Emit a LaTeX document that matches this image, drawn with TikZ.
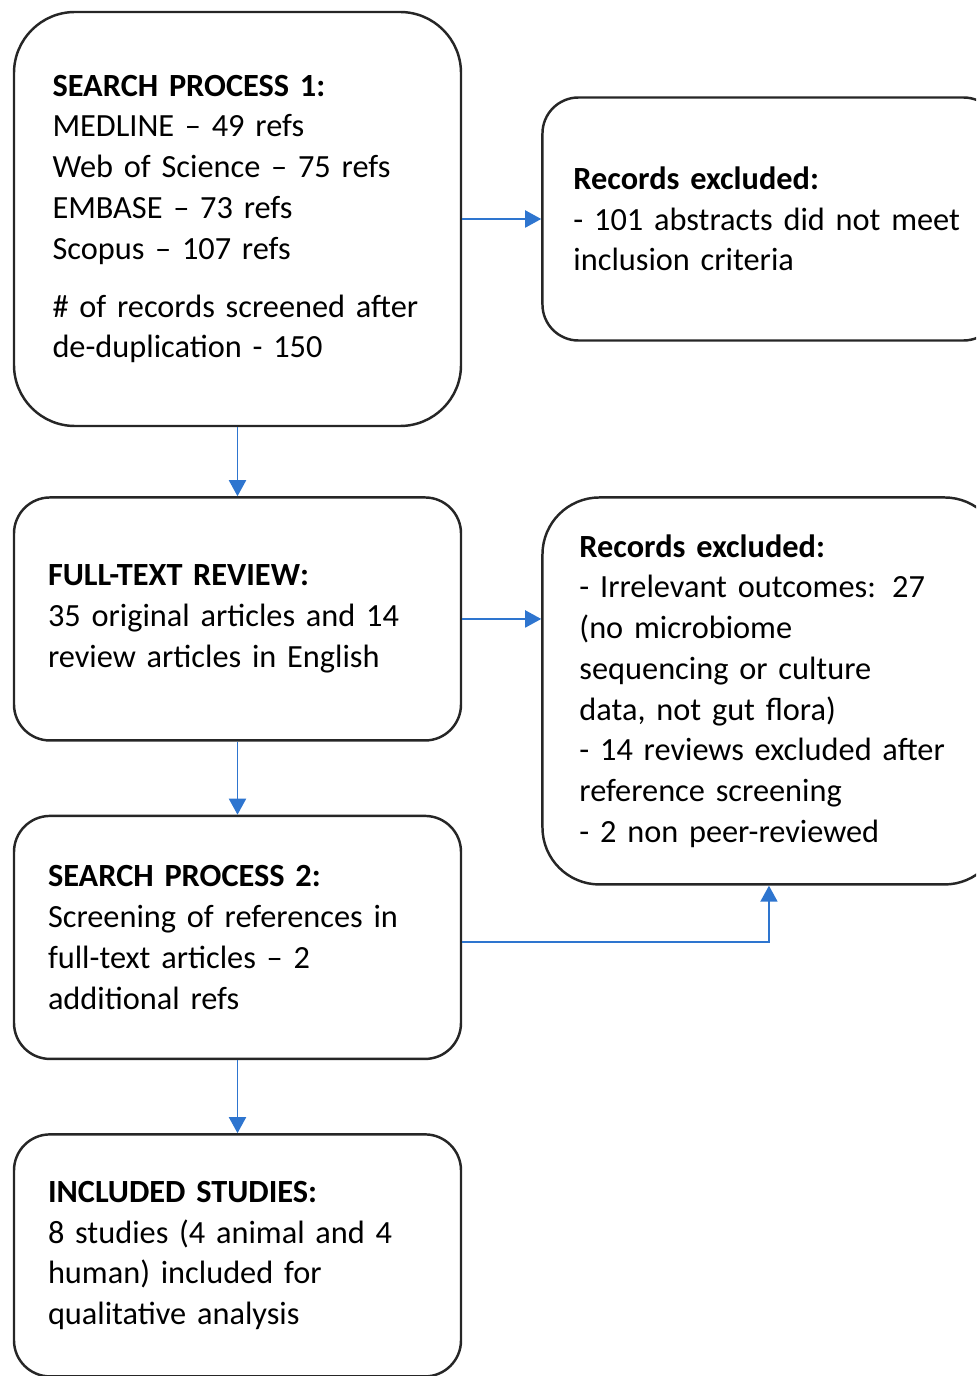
\documentclass[tikz,border=0pt]{standalone}
\usepackage{fontspec}
\setmainfont{Carlito}
\usetikzlibrary{positioning,calc,arrows.meta}

\definecolor{arrowblue}{HTML}{2E75CF}

\begin{document}
\begin{tikzpicture}[
    node distance=1.5cm,
    box/.style={
        rectangle,
        draw=black!85,
        line width=1.4pt,
        align=left,
        text width=7.58cm,
        inner xsep=0.68cm,
        minimum height=4.86cm,
        rounded corners=0.72cm,
        font=\fontsize{18.4}{23.2}\selectfont
    },
    line/.style={
        draw=arrowblue,
        line width=1.1pt,
        -{Triangle[length=0.32cm,width=0.34cm]}
    }
]

    % Frame
    \useasboundingbox (0,0) rectangle (19.52,-27.52);
    \clip (0,0) rectangle (19.52,-27.52);

    % Main column
    \node [box, text width=7.4cm, inner xsep=0.77cm, minimum height=8.28cm, rounded corners=1.22cm] (search1) at (4.75,-4.38)
        {\textbf{SEARCH PROCESS 1:}\\
         MEDLINE -- 49 refs\\
         Web of Science -- 75 refs\\
         EMBASE -- 73 refs\\
         Scopus -- 107 refs\\[9.7pt]
         \mbox{\# of records screened after}\\
         de-duplication - 150};
    \node [box, below=1.38cm of search1] (fulltext)
        {\textbf{FULL-TEXT REVIEW:}\\
         35 original articles and 14\\
         review articles in English};
    \node [box, below=1.46cm of fulltext] (search2)
        {\textbf{SEARCH PROCESS 2:}\\
         Screening of references in\\
         full-text articles -- 2\\
         additional refs};
    \node [box, below=1.46cm of search2, minimum height=4.84cm] (included)
        {\textbf{INCLUDED STUDIES:}\\
         8 studies (4 animal and 4\\
         human) included for\\
         qualitative analysis};

    % Exclusions
    \node [box, text width=7.9cm, inner xsep=0.62cm, right=1.58cm of search1] (excl1)
        {\textbf{Records excluded:}\\
         \mbox{- 101 abstracts did not meet}\\
         inclusion criteria};
    \node [box, text width=7.7cm, inner xsep=0.74cm, minimum height=7.74cm, rounded corners=1.14cm,
           right=1.58cm of fulltext.north east, anchor=north west] (excl2)
        {\textbf{Records excluded:}\\
         - Irrelevant outcomes: 27\\
         (no microbiome\\
         sequencing or culture\\
         data, not gut flora)\\
         \mbox{- 14 reviews excluded after}\\
         reference screening\\
         - 2 non peer-reviewed};

    % Edges
    \path [line] (search1) -- (excl1);
    \path [line] (search1) -- (fulltext);
    \path [line] (fulltext.east) -- (fulltext.east -| excl2.west);
    \path [line] (fulltext) -- (search2);
    \path [line] ($(search2.east)+(0,-0.1)$) -| ($(excl2.south)+(-0.06,0)$);
    \path [line] (search2) -- (included);

\end{tikzpicture}
\end{document}
